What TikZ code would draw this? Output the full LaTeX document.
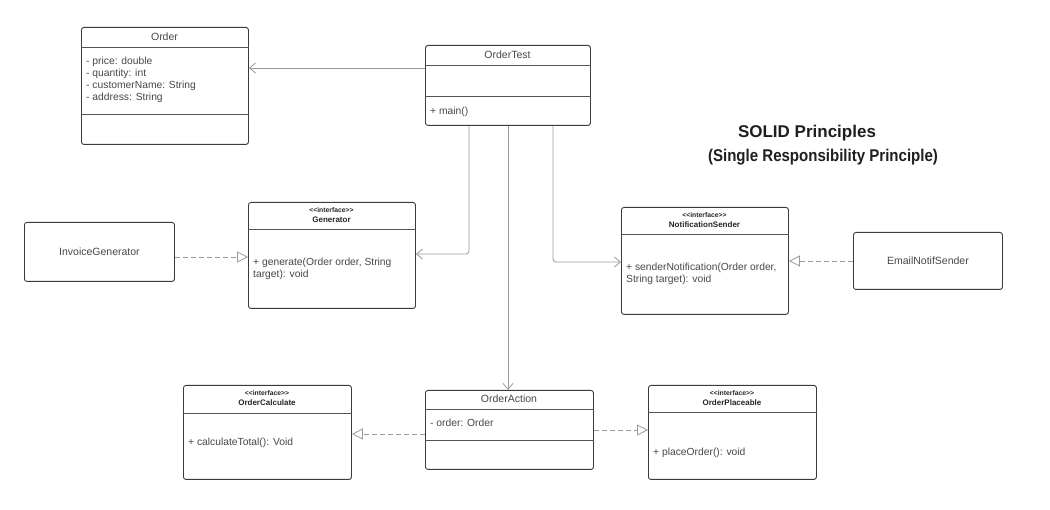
\documentclass[tikz,border=0pt]{standalone}
\usepackage{fontspec}
\usepackage{graphicx}
\setmainfont{Liberation Sans}
\newfontfamily\stfont{Liberation Sans}[Ligatures=TeXOff]
\usetikzlibrary{arrows.meta}
\definecolor{boxline}{HTML}{3A3A3A}
\definecolor{txt}{HTML}{474747}
\definecolor{conn}{HTML}{9A9A9A}
\definecolor{sep}{HTML}{555555}
\tikzset{
  cls/.style={draw=boxline, line width=0.9pt, rounded corners=2.5pt, inner sep=0pt, anchor=north west, fill=white},
  sepline/.style={draw=sep, line width=0.7pt},
  lbl/.style={font=\fontsize{10.3}{12}\selectfont, text=txt, inner sep=0pt, anchor=west},
  ttl/.style={font=\fontsize{10.5}{12}\selectfont, text=txt, inner sep=0pt},
  stereo/.style={font=\stfont\bfseries\fontsize{6.8}{8}\selectfont, text=black!85, inner sep=0pt},
  iname/.style={font=\bfseries\fontsize{8}{9}\selectfont, text=black!85, inner sep=0pt},
  heading/.style={font=\bfseries\fontsize{17}{20}\selectfont, text=black!88, inner sep=0pt},
  assoc/.style={draw=conn, line width=0.8pt, -{Straight Barb[length=6pt,width=10pt]}, rounded corners=3pt},
  realize/.style={draw=conn, line width=0.8pt, dashed, dash pattern=on 5pt off 3pt, -{Triangle[open,length=11pt,width=11pt,fill=white]}},
}
\begin{document}
\begin{tikzpicture}[x=1pt,y=-1pt]
\useasboundingbox[fill=white] (0,0) rectangle (1050,510);

% Order
\node[cls, minimum width=167pt, minimum height=117pt] (o) at (81,27) {};
\draw[sepline] (o.west|-0,47) -- (o.east|-0,47);
\draw[sepline] (o.west|-0,114) -- (o.east|-0,114);
\node[ttl] (ot1) at (164.5,37) {Order};
\node[lbl] (oa1) at (86,62) {- price: double};
\node[lbl] (oa2) at (86,73.5) {- quantity: int};
\node[lbl] (oa3) at (86,85.5) {- customerName: String};
\node[lbl] (oa4) at (86,97.5) {- address: String};

% OrderTest
\node[cls, minimum width=165pt, minimum height=80pt] (t) at (425,45) {};
\draw[sepline] (t.west|-0,65) -- (t.east|-0,65);
\draw[sepline] (t.west|-0,96) -- (t.east|-0,96);
\node[ttl] (tt1) at (507.5,55) {OrderTest};
\node[lbl] (tm1) at (430,111.5) {+ main()};

% Generator
\node[cls, minimum width=167pt, minimum height=106pt] (g) at (248,202) {};
\draw[sepline] (g.west|-0,229) -- (g.east|-0,229);
\node[stereo] (gs) at (331.5,210) {<<interface>>};
\node[iname] (gn) at (331.5,219.5) {Generator};
\node[lbl] (gm1) at (253,263) {+ generate(Order order, String};
\node[lbl] (gm2) at (253,275) {target): void};

% NotificationSender
\node[cls, minimum width=167pt, minimum height=107pt] (n) at (621,207) {};
\draw[sepline] (n.west|-0,234) -- (n.east|-0,234);
\node[stereo] (ns) at (704.5,215) {<<interface>>};
\node[iname] (nn) at (704.5,225) {NotificationSender};
\node[lbl] (nm1) at (626,268) {+ senderNotification(Order order,};
\node[lbl] (nm2) at (626,280) {String target): void};

% OrderCalculate
\node[cls, minimum width=168pt, minimum height=94pt] (c) at (183,385) {};
\draw[sepline] (c.west|-0,413) -- (c.east|-0,413);
\node[stereo] (cs) at (267,393) {<<interface>>};
\node[iname] (cn) at (267,402.5) {OrderCalculate};
\node[lbl] (cm1) at (188,443) {+ calculateTotal(): Void};

% OrderAction
\node[cls, minimum width=168pt, minimum height=79pt] (a) at (425,390) {};
\draw[sepline] (a.west|-0,409) -- (a.east|-0,409);
\draw[sepline] (a.west|-0,440) -- (a.east|-0,440);
\node[ttl] (at1) at (509,399) {OrderAction};
\node[lbl] (aa1) at (430,423) {- order: Order};

% OrderPlaceable
\node[cls, minimum width=168pt, minimum height=94pt] (p) at (648,385) {};
\draw[sepline] (p.west|-0,412) -- (p.east|-0,412);
\node[stereo] (ps) at (732,393) {<<interface>>};
\node[iname] (pn) at (732,402.5) {OrderPlaceable};
\node[lbl] (pm1) at (653,453) {+ placeOrder(): void};

% InvoiceGenerator
\node[cls, minimum width=150pt, minimum height=59pt] (ig) at (24,222) {};
\node[ttl] (igt) at (ig.center) {InvoiceGenerator};

% EmailNotifSender
\node[cls, minimum width=149pt, minimum height=57pt] (e) at (853,232) {};
\node[ttl] (et) at (e.center) {EmailNotifSender};

% Title
\node[heading] (title1) at (807,133) {SOLID Principles};
\node[heading] (title2) at (823,157) {\scalebox{0.885}[1]{(Single Responsibility Principle)}};

% connectors
\draw[assoc] (t.west|-0,68) -- (o.east|-0,68);
\draw[assoc] (t.south-|469,0) |- (g.east|-0,254);
\draw[assoc] (t.south-|553,0) |- (n.west|-0,262);
\draw[assoc] (t.south-|508,0) -- (a.north-|508,0);
\draw[realize] (ig.east|-0,257) -- (g.west|-0,257);
\draw[realize] (e.west|-0,261) -- (n.east|-0,261);
\draw[realize] (a.west|-0,434) -- (c.east|-0,434);
\draw[realize] (a.east|-0,430) -- (p.west|-0,430);
\end{tikzpicture}
\end{document}
